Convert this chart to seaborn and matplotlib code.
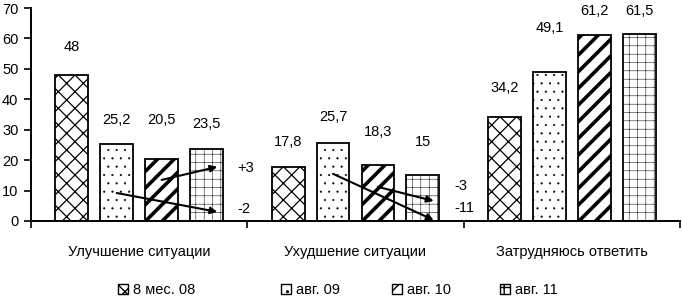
import matplotlib
matplotlib.use("Agg")
import matplotlib.pyplot as plt
from matplotlib.patches import Patch
import seaborn as sns
import pandas as pd

# data
categories = ["Улучшение ситуации", "Ухудшение ситуации", "Затрудняюсь ответить"]
series = ["8 мес. 08", "авг. 09", "авг. 10", "авг. 11"]
v_08 = [48, 17.8, 34.2]
v_09 = [25.2, 25.7, 49.1]
v_10 = [20.5, 18.3, 61.2]
v_11 = [23.5, 15, 61.5]
values = [v_08, v_09, v_10, v_11]

# change arrows: (category, from series, label)
changes = [
    (0, 2, "+3"),
    (0, 1, "-2"),
    (1, 2, "-3"),
    (1, 1, "-11"),
]

# layout tweaks (label lift above bar, arrow heights in data units)
label_lift = [
    [9.1, 8.3, 9.4],
    [8.1, 8.6, 14.3],
    [12.8, 11.1, 7.8],
    [8.5, 11.1, 7.5],
]
arrow_y = [(13.5, 17.8, 17.5), (9.2, 3.0, 4.0), (11.2, 6.6, 11.6), (15.5, 0.3, 4.3)]
legend_x = [118, 281, 392, 500]  # pixel left of each legend key

hatches = ["xx", "..", "//", "++"]
hatch_lws = [0.9, 0.3, 2.6, 0.35]
hatch_cols = ["black", "black", "black", "#444444"]

df = pd.DataFrame(
    [(c, s, values[i][j]) for i, s in enumerate(series) for j, c in enumerate(categories)],
    columns=["Category", "Period", "Value"],
)

sns.set_theme(style="ticks")
plt.rcParams["font.family"] = ["Liberation Sans", "DejaVu Sans"]
plt.rcParams["font.size"] = 10
plt.rcParams["text.color"] = "black"
plt.rcParams["xtick.color"] = "black"
plt.rcParams["ytick.color"] = "black"

fig = plt.figure(figsize=(6.82, 2.97), dpi=100)
ax = fig.add_axes([31 / 682, 1 - 221 / 297, 649 / 682, 213 / 297])

sns.barplot(
    data=df,
    x="Category",
    y="Value",
    hue="Period",
    order=categories,
    hue_order=series,
    width=0.83,
    gap=0.27,
    errorbar=None,
    legend=False,
    ax=ax,
)


def style_patch(p, h, hlw, hc):
    p.set_facecolor("white")
    p.set_edgecolor("black")
    p.set_hatch(h)
    if hasattr(p, "set_hatch_linewidth"):
        p.set_hatch_linewidth(hlw)
    if hasattr(p, "set_hatchcolor"):
        p.set_hatchcolor(hc)


centers = {}
for i, (cont, h, hlw, hc) in enumerate(zip(ax.containers, hatches, hatch_lws, hatch_cols)):
    for j, bar in enumerate(cont):
        style_patch(bar, h, hlw, hc)
        bar.set_linewidth(1.3)
        cx = bar.get_x() + bar.get_width() / 2
        centers[(i, j)] = cx
        v = values[i][j]
        ax.text(cx, v + label_lift[i][j], f"{v:g}".replace(".", ","),
                ha="center", va="center", fontsize=10.5)

for (g, src, lab), (y0, y1, ly) in zip(changes, arrow_y):
    x0 = centers[(src, g)]
    x1 = centers[(3, g)] + 0.05
    ax.annotate("", xy=(x1, y1), xytext=(x0, y0),
                arrowprops=dict(arrowstyle="-|>", color="black", lw=1.5,
                                mutation_scale=10, shrinkA=0, shrinkB=0))
    ax.text(g + 0.455, ly, lab, ha="left", va="center", fontsize=10.5)

ax.set_xlim(-0.5, 2.5)
ax.set_ylim(0, 70)
ax.set_yticks(range(0, 71, 10))
ax.set_xticks([-0.5, 0.5, 1.5, 2.5])
ax.set_xticklabels([])
ax.set_xticks([0, 1, 2], minor=True)
ax.set_xticklabels(categories, minor=True)
ax.tick_params(axis="x", which="minor", length=0, pad=17, labelsize=10.5)
ax.tick_params(axis="x", which="major", length=5, width=1.2)
ax.tick_params(axis="y", length=5, width=1.2, labelsize=10.5, pad=4)
ax.set(xlabel=None, ylabel=None)
sns.despine(ax=ax)
for side in ["left", "bottom"]:
    ax.spines[side].set_color("black")
    ax.spines[side].set_linewidth(1.4)

# one single-entry legend per period, placed like the original
for s, h, hlw, hc, lx in zip(series, hatches, hatch_lws, hatch_cols, legend_x):
    p = Patch(label=s, linewidth=1.0)
    style_patch(p, h, hlw, hc)
    fig.legend(handles=[p], loc="center left", bbox_to_anchor=(lx / 682, 0.024),
               frameon=False, borderpad=0, borderaxespad=0,
               handlelength=0.7, handleheight=0.7, handletextpad=0.35,
               fontsize=10.5)

fig.savefig("out.png", dpi=100)
plt.close()
